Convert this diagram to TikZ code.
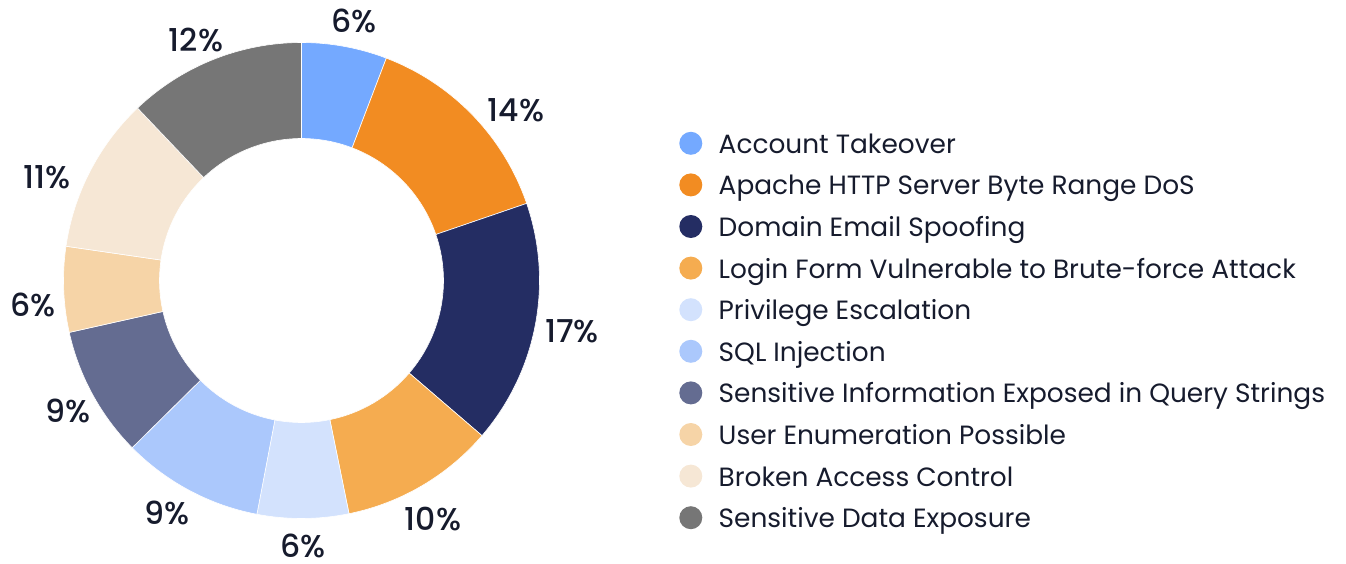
\documentclass[tikz,border=0pt]{standalone}
\usepackage{fontspec}
\setmainfont{Poppins}
\newfontfamily\pctfont{Poppins Medium}
\usetikzlibrary{positioning}
\definecolor{ink}{RGB}{22,27,45}
\definecolor{takeover}{HTML}{74A9FF}
\definecolor{apache}{HTML}{F28C22}
\definecolor{spoofing}{HTML}{242D63}
\definecolor{bruteforce}{HTML}{F5AC50}
\definecolor{privilege}{HTML}{D3E2FD}
\definecolor{sqli}{HTML}{ABC8FC}
\definecolor{querystr}{HTML}{646C91}
\definecolor{userenum}{HTML}{F6D4A7}
\definecolor{access}{HTML}{F6E7D5}
\definecolor{exposure}{HTML}{767676}
\tikzset{%
  slice/.style = {draw=white, line width=0.6pt}, % donut piece
  pct/.style   = {text=ink, inner sep=0pt, font=\pctfont\fontsize{31.5}{37}\selectfont},
  dot/.style   = {circle, inner sep=0pt, minimum size=23pt}, % legend marker
  entry/.style = {anchor=west, inner sep=0pt, text=ink, text height=20pt,
    text depth=0pt, font=\fontsize{26.4}{31}\selectfont}
}

\begin{document}
\begin{tikzpicture}[x=1pt, y=1pt, node distance=41.6pt]
  \useasboundingbox (-301.5,-282.5) rectangle (1044.5,280.5);

  % donut, clockwise from the top
  \foreach \v/\col/\txt/\lpos [count=\i, remember=\e as \s (initially 0),
      evaluate=\v as \e using \s+\v] in {
      5.8/takeover/6/{(52.5,259.5)},
      13.95/apache/14/{(214.5,170.5)},
      16.55/spoofing/17/{(270.5,-50.5)},
      10.5/bruteforce/10/{(131.5,-238.5)},
      6.2/privilege/6/{(1.5,-265.5)},
      9.6/sqli/9/{(-134.5,-232.5)},
      8.9/querystr/9/{(-233.5,-130.5)},
      5.8/userenum/6/{(-268.5,-24.5)},
      10.6/access/11/{(-254.5,103.5)},
      12.1/exposure/12/{(-105.5,240.5)}}
  {
    \pgfmathsetmacro{\a}{90-3.6*\s}
    \pgfmathsetmacro{\b}{90-3.6*\e}
    \fill[\col, slice] (\a:238) arc[start angle=\a, end angle=\b, radius=238]
      -- (\b:142) arc[start angle=\b, end angle=\a, radius=142] -- cycle;
    \node[pct] (p\i) at \lpos {\txt\%};
  }

  % legend
  \draw node at (389.3,137.2) [dot, fill=takeover] (dTakeover) {};
  \draw node [dot, fill=apache, below of=dTakeover] (dApache) {};
  \draw node [dot, fill=spoofing, below of=dApache] (dSpoofing) {};
  \draw node [dot, fill=bruteforce, below of=dSpoofing] (dBruteforce) {};
  \draw node [dot, fill=privilege, below of=dBruteforce] (dPrivilege) {};
  \draw node [dot, fill=sqli, below of=dPrivilege] (dSqli) {};
  \draw node [dot, fill=querystr, below of=dSqli] (dQuerystr) {};
  \draw node [dot, fill=userenum, below of=dQuerystr] (dUserenum) {};
  \draw node [dot, fill=access, below of=dUserenum] (dAccess) {};
  \draw node [dot, fill=exposure, below of=dAccess] (dExposure) {};

  \draw node [entry, right=16pt of dTakeover] (tTakeover) {Account Takeover};
  \draw node [entry, right=16pt of dApache] (tApache) {Apache HTTP Server Byte Range DoS};
  \draw node [entry, right=16pt of dSpoofing] (tSpoofing) {Domain Email Spoofing};
  \draw node [entry, right=16pt of dBruteforce] (tBruteforce) {Login Form Vulnerable to Brute-force Attack};
  \draw node [entry, right=16pt of dPrivilege] (tPrivilege) {Privilege Escalation};
  \draw node [entry, right=16pt of dSqli] (tSqli) {SQL Injection};
  \draw node [entry, right=16pt of dQuerystr] (tQuerystr) {Sensitive Information Exposed in Query Strings};
  \draw node [entry, right=16pt of dUserenum] (tUserenum) {User Enumeration Possible};
  \draw node [entry, right=16pt of dAccess] (tAccess) {Broken Access Control};
  \draw node [entry, right=16pt of dExposure] (tExposure) {Sensitive Data Exposure};
\end{tikzpicture}
\end{document}
